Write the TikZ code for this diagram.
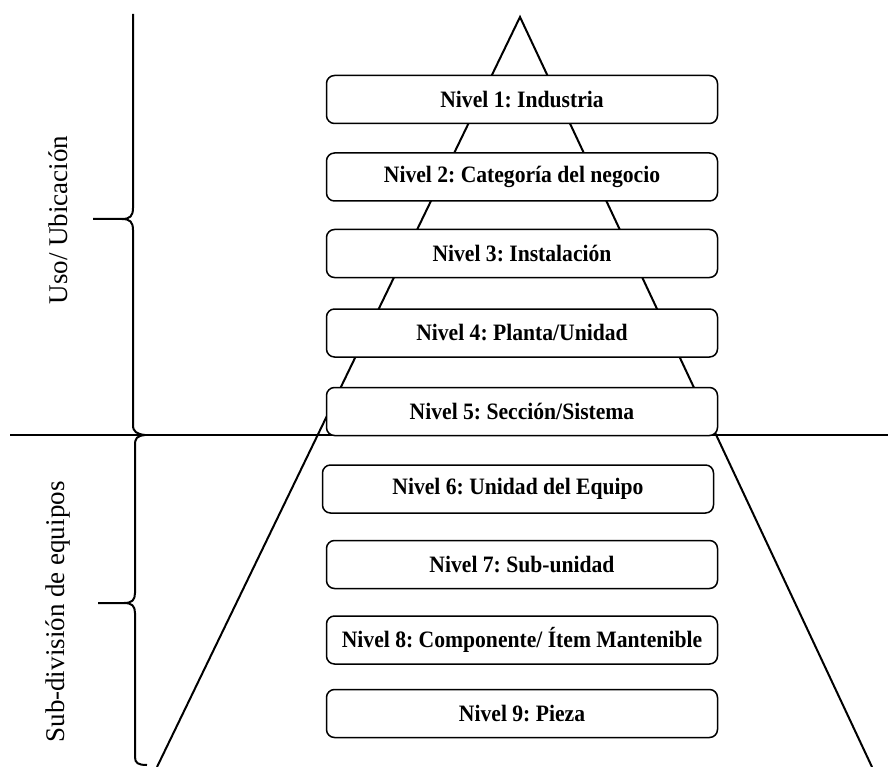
\documentclass[tikz,border=0pt]{standalone}
\usepackage{fontspec}
\setmainfont{Liberation Serif}
\newfontfamily\nivelfont[FakeStretch=0.92]{Liberation Serif}
\usetikzlibrary{positioning}
\frenchspacing
\tikzset{
    %Define style for level boxes
    nivel/.style={
           rectangle, rounded corners=8pt,
           draw=black, line width=1.5pt, fill=white,
           minimum width=391pt,
           minimum height=48pt,
           inner sep=0pt,
           font=\nivelfont\bfseries\fontsize{23.5}{26}\selectfont},
    % Define style for side labels
    lado/.style={
           rotate=90,
           font=\fontsize{27}{30}\selectfont},
    % Define line style
    linea/.style={
           line width=2pt,}
}

\begin{document}
\begin{tikzpicture}[x=1pt, y=-1pt, node distance=27pt]
\useasboundingbox (0,0) rectangle (888,767);

%pyramid and dividing line
\coordinate (top) at (520,17);
\coordinate (izq) at (157,767);
\coordinate (der) at (872,767);
\draw[linea] (izq) -- (top) -- (der);
\draw[linea] (10,435) -- (888,435);

%nodes
\node[nivel] (n1) at (522,99.5) {Nivel 1: Industria};
\node[below=28pt of n1, nivel] (n2) {Nivel 2: Categoría del negocio};
\node[below=of n2, nivel] (n3) {Nivel 3: Instalación};
\node[below=30pt of n3, nivel] (n4) {Nivel 4: Planta/Unidad};
\node[below=29pt of n4, nivel] (n5) {Nivel 5: Sección/Sistema};
\node[below=28pt of n5, xshift=-4pt, nivel] (n6) {Nivel 6: Unidad del Equipo};
\node[below=26pt of n6, xshift=4pt, nivel] (n7) {Nivel 7: Sub-unidad};
\node[below=26pt of n7, nivel] (n8) {Nivel 8: Componente/ Ítem Mantenible};
\node[below=24pt of n8, nivel] (n9) {Nivel 9: Pieza};

%braces
\draw[linea]
    (133,14) -- (133,208) .. controls (133,216) and (130,219) .. (122,219) -- (93,219)
    (122,219) .. controls (130,219) and (133,222) .. (133,230) -- (133,425)
    .. controls (133,432) and (137,434) .. (145,435);
\draw[linea]
    (145,435) .. controls (137,436) and (135,438) .. (135,445) -- (135,593)
    .. controls (135,600) and (132,603) .. (124,603) -- (98,603)
    (124,603) .. controls (132,603) and (135,606) .. (135,613) -- (135,757)
    .. controls (135,763) and (138,765) .. (147,765);

%side labels
\node[lado] (uso) at (58,220) {Uso/ Ubicación};
\node[lado] (sub) at (58,612) {Sub-división de equipos};

\end{tikzpicture}
\end{document}
